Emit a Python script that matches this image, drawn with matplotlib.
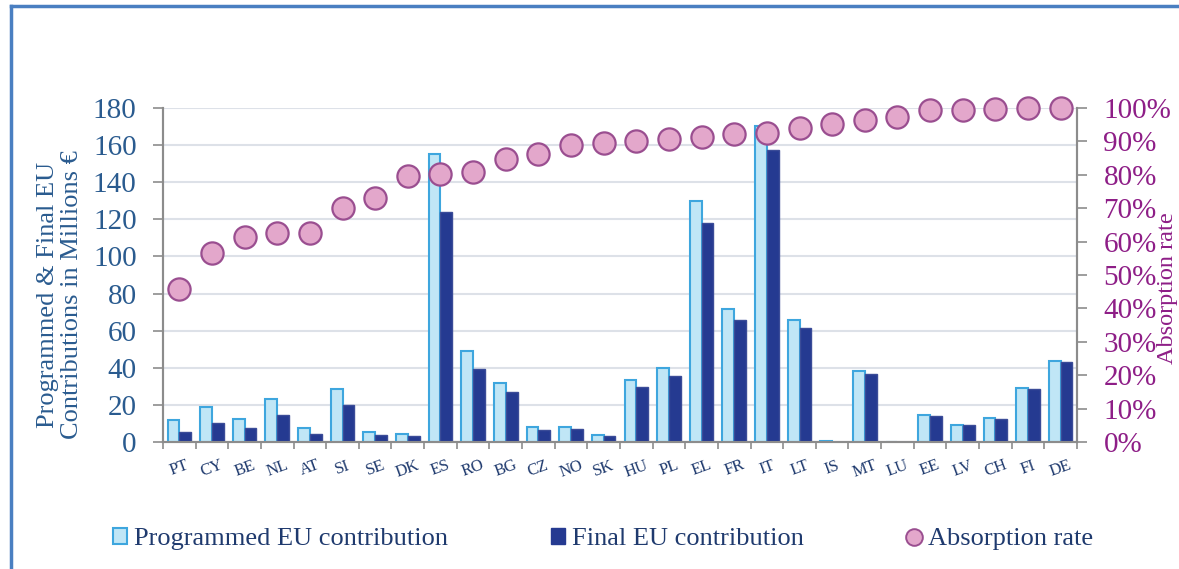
"""Programmed vs final EU contributions per country, with absorption rate."""

import matplotlib.pyplot as plt
import matplotlib.transforms as mtransforms
import numpy as np
from matplotlib.lines import Line2D
from matplotlib.patches import Patch

plt.rcParams["font.family"] = ["Liberation Serif", "DejaVu Serif"]

countries = ["PT", "CY", "BE", "NL", "AT", "SI", "SE", "DK", "ES", "RO",
             "BG", "CZ", "NO", "SK", "HU", "PL", "EL", "FR", "IT", "LT",
             "IS", "MT", "LU", "EE", "LV", "CH", "FI", "DE"]
programmed = [11.7, 18.9, 12.4, 23.4, 7.4, 28.6, 5.2, 4.5, 155.0, 49.0,
              31.8, 8.1, 7.9, 3.9, 33.2, 39.7, 129.7, 71.8, 170.4, 65.7,
              0.3, 38.4, 0.2, 14.7, 9.3, 12.8, 29.1, 43.5]
final = [5.2, 10.4, 7.5, 14.4, 4.5, 19.8, 3.6, 3.2, 123.8, 39.5,
         26.8, 6.6, 6.8, 3.1, 29.6, 35.7, 118.0, 65.7, 157.2, 61.4,
         0.0, 36.8, 0.0, 14.2, 9.0, 12.4, 28.7, 43.1]
absorption = [45.8, 56.6, 61.3, 62.6, 62.7, 70.1, 73.1, 79.5, 80.2, 80.8,
              84.7, 86.3, 88.9, 89.5, 90.0, 90.8, 91.3, 92.1, 92.6, 94.1,
              95.2, 96.4, 97.3, 99.3, 99.4, 99.7, 99.9, 100.0]

BLUE_TEXT = "#2A5B8F"
PURPLE_TEXT = "#8E1E87"
NAVY = "#1F3A6E"
PROG_FACE = "#C0E6F6"
PROG_EDGE = "#3EA6DE"
FINAL_FACE = "#253A91"
FINAL_EDGE = "#3B4C98"
DOT_FACE = "#E3A7CB"
DOT_EDGE = "#9A4E90"
SPINE = "#8C8C8C"

W, H = 1179, 569
fig = plt.figure(figsize=(W / 100, H / 100), dpi=100)
ax = fig.add_axes([163 / W, 1 - 442 / H, (1077 - 163) / W, (442 - 108) / H])
ax2 = ax.twinx()

x = np.arange(len(countries))
width = 0.36
ax.bar(x - width / 2, programmed, width, color=PROG_FACE, edgecolor=PROG_EDGE,
       linewidth=1.5, zorder=3)
ax.bar(x + width / 2, final, width, color=FINAL_FACE, edgecolor=FINAL_EDGE,
       linewidth=1.0, zorder=3)

ax2.plot(x, absorption, linestyle="none", marker="o", markersize=16,
         markerfacecolor=DOT_FACE, markeredgecolor=DOT_EDGE,
         markeredgewidth=1.6, zorder=4, clip_on=False)

ax.set_xlim(-0.5, len(countries) - 0.5)
ax.set_ylim(0, 180)
ax.set_yticks(np.arange(0, 181, 20))
ax2.set_ylim(0, 100)
ax2.set_yticks(np.arange(0, 101, 10))
ax2.set_yticklabels([f"{v}%" for v in range(0, 101, 10)])

ax.yaxis.grid(True, color="#DDE1E8", linewidth=1.5, zorder=0)
ax.set_axisbelow(True)

ax.set_xticks(x)
ax.set_xticklabels(countries, rotation=20, fontsize=12, color=NAVY)
shift = mtransforms.ScaledTranslation(-6 / 100, 0, fig.dpi_scale_trans)
for lbl in ax.get_xticklabels():
    lbl.set_transform(lbl.get_transform() + shift)
ax.set_xticks(np.arange(-0.5, len(countries), 1), minor=True)
ax.tick_params(axis="x", which="major", length=0, pad=11)
ax.tick_params(axis="x", which="minor", length=5, color=SPINE, width=1.2)
ax.tick_params(axis="y", length=7, color=SPINE, width=1.2,
               labelsize=21, labelcolor=BLUE_TEXT, pad=12)
ax2.tick_params(axis="y", length=7, color=SPINE, width=1.2,
                labelsize=21, labelcolor=PURPLE_TEXT, pad=12)

for a in (ax, ax2):
    a.spines["top"].set_visible(False)
    for side in ("left", "right", "bottom"):
        a.spines[side].set_color(SPINE)
        a.spines[side].set_linewidth(1.5)

fig.text(60 / W, 1 - 295 / H, "Programmed & Final EU\nContributions in Millions €",
         rotation=90, ha="center", va="center", fontsize=19, color=BLUE_TEXT,
         linespacing=1.15)
fig.text(1167 / W, 1 - 288 / H, "Absorption rate", rotation=90, ha="center",
         va="center", fontsize=17.5, color=PURPLE_TEXT)

handles = [
    Patch(facecolor=PROG_FACE, edgecolor=PROG_EDGE, linewidth=1.5),
    Patch(facecolor=FINAL_FACE, edgecolor=FINAL_FACE),
    Line2D([], [], linestyle="none", marker="o", markersize=12,
           markerfacecolor=DOT_FACE, markeredgecolor=DOT_EDGE, markeredgewidth=1.4),
]
labels = ["Programmed EU contribution", "Final EU contribution", "Absorption rate"]
leg = fig.legend(handles, labels, loc="center", bbox_to_anchor=(603 / W, 1 - 539 / H),
                 ncol=3, frameon=False, fontsize=19, handlelength=0.55,
                 handleheight=0.6, handletextpad=0.25, columnspacing=3.9)
for t in leg.get_texts():
    t.set_color(NAVY)

# blue frame around the chart
frame = "#4A7FC1"
fig.add_artist(Line2D([11 / W, 11 / W], [0, 1 - 6 / H], color=frame,
                      linewidth=2.5, transform=fig.transFigure))
fig.add_artist(Line2D([11 / W, 1], [1 - 6 / H, 1 - 6 / H], color=frame,
                      linewidth=2.5, transform=fig.transFigure))

fig.savefig("out.png", dpi=100)
